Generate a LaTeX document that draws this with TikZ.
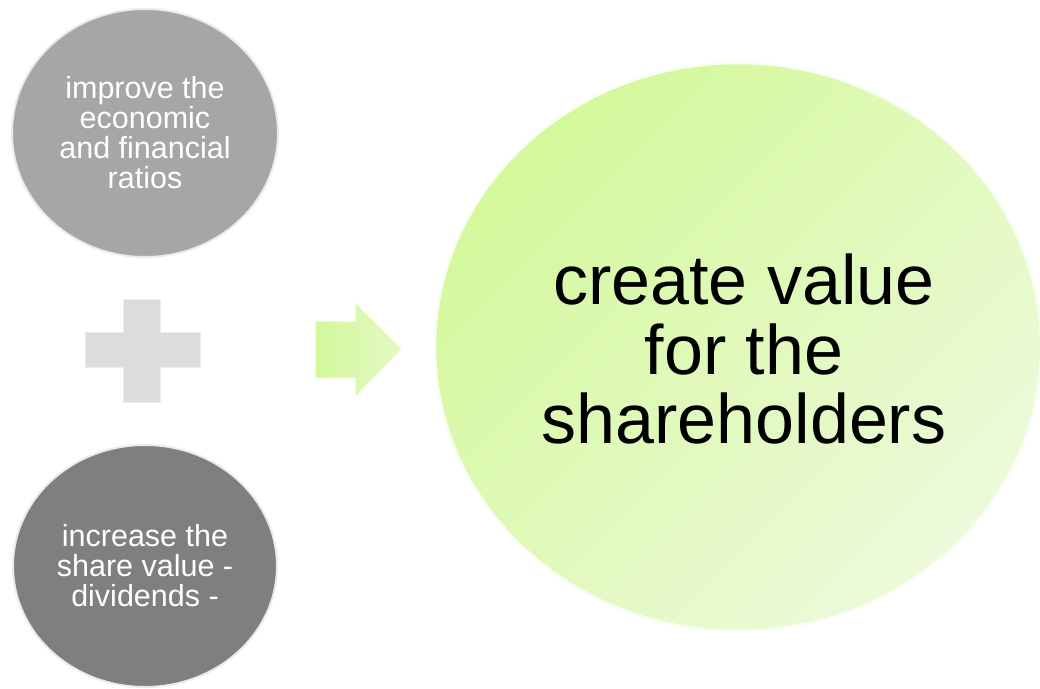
\documentclass[tikz,border=0pt]{standalone}
\usepackage{fontspec}
\setmainfont{Liberation Sans}
\usetikzlibrary{shapes.geometric}
\definecolor{gtop}{RGB}{166,166,166}
\definecolor{gbot}{RGB}{127,127,127}
\definecolor{greenA}{RGB}{212,248,155}
\definecolor{greenB}{RGB}{236,250,218}
\definecolor{greenC}{RGB}{226,249,196}
\definecolor{plusgray}{RGB}{220,220,220}
\definecolor{rim}{RGB}{235,235,235}
\begin{document}
\begin{tikzpicture}[x=1pt,y=-1pt,
  bubble/.style={ellipse, inner sep=0pt, draw=rim, line width=2pt, text=white,
     align=center, font=\fontsize{30.5}{30}\selectfont},
  bigbubble/.style={ellipse, inner sep=0pt, draw=white!70!greenB, line width=2.5pt,
     top color=greenA, bottom color=greenB, shading angle=45},
  bigtext/.style={align=center, inner sep=0pt, font=\fontsize{70}{69.5}\selectfont},
  plusshape/.style={fill=plusgray, draw=white!85!gray, line width=1pt},
  arrowshape/.style={left color=greenA, right color=greenC, draw=white!80!greenB, line width=1pt}
]
\useasboundingbox (0,0) rectangle (1040,688);
% top circle
\node[bubble, fill=gtop, minimum width=266pt, minimum height=248pt] (ratios) at (145,133)
  {improve the\\economic\\and financial\\ratios};
% bottom circle
\node[bubble, fill=gbot, minimum width=264pt, minimum height=242pt] (share) at (145,566)
  {increase the\\share value -\\dividends -};
% big green circle
\node[bigbubble, minimum width=606pt, minimum height=568pt] (value) at (738,347) {};
\node[bigtext] (valuetext) at (744,349) {create value\\for the\\shareholders};
% plus sign
\path[plusshape] (123,299) -- (160,299) -- (160,332) -- (200,332) -- (200,367)
  -- (160,367) -- (160,402) -- (123,402) -- (123,367) -- (85,367) -- (85,332)
  -- (123,332) -- cycle;
\coordinate (plus) at (142,350);
% arrow
\path[arrowshape] (315,321) -- (355,321) -- (355,302) -- (402,349) -- (355,397)
  -- (355,378) -- (315,378) -- cycle;
\coordinate (arrow) at (358,349);
\end{tikzpicture}
\end{document}
